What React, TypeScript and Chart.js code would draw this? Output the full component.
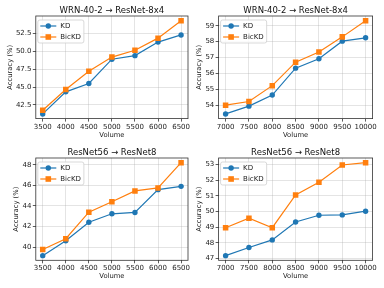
import React, { useEffect, useRef } from "react";
import { Chart, registerables } from "chart.js";

Chart.register(...registerables);

// ---------- data ----------
const volumesLow = [3500, 4000, 4500, 5000, 5500, 6000, 6500];
const volumesHigh = [7000, 7500, 8000, 8500, 9000, 9500, 10000];

const wrnLowKD = [41.23, 44.33, 45.5, 48.9, 49.4, 51.3, 52.3];
const wrnLowBicKD = [41.75, 44.66, 47.2, 49.2, 50.15, 51.85, 54.3];
const wrnHighKD = [53.45, 53.94, 54.64, 56.33, 56.92, 58.03, 58.24];
const wrnHighBicKD = [54.0, 54.23, 55.23, 56.71, 57.35, 58.3, 59.32];
const resLowKD = [39.18, 40.62, 42.42, 43.24, 43.37, 45.58, 45.9];
const resLowBicKD = [39.77, 40.82, 43.4, 44.4, 45.46, 45.75, 48.2];
const resHighKD = [47.17, 47.69, 48.18, 49.33, 49.76, 49.78, 50.02];
const resHighBicKD = [48.96, 49.57, 48.96, 51.06, 51.88, 52.98, 53.13];

const yTicksWrnLow = [42.5, 45, 47.5, 50, 52.5];
const yTicksWrnHigh = [54, 55, 56, 57, 58, 59];
const yTicksResLow = [40, 42, 44, 46, 48];
const yTicksResHigh = [47, 48, 49, 50, 51, 52, 53];

const titleWrn = "WRN-40-2 → ResNet-8x4";
const titleRes = "ResNet56 → ResNet8";
const seriesNames = ["KD", "BicKD"];
const xAxisTitle = "Volume";
const yAxisTitle = "Accuracy (%)";

// ---------- style ----------
const BLUE = "#1f77b4";
const ORANGE = "#ff7f0e";
const FONT = "'DejaVu Sans', sans-serif";
const W = 192;
const H = 144;

type Panel = {
  title: string;
  xs: number[];
  kd: number[];
  bic: number[];
  yTicks: number[];
  decimals: number;
  L: number;
  R: number;
  T: number;
  B: number;
  yTitleX: number;
  xTitleY: number;
  left: number;
  top: number;
};

const panels: Panel[] = [
  { title: titleWrn, xs: volumesLow, kd: wrnLowKD, bic: wrnLowBicKD, yTicks: yTicksWrnLow, decimals: 1,
    L: 35.8, R: 189.8, T: 16, B: 118.6, yTitleX: 10, xTitleY: 135, left: 0, top: 0 },
  { title: titleWrn, xs: volumesHigh, kd: wrnHighKD, bic: wrnHighBicKD, yTicks: yTicksWrnHigh, decimals: 0,
    L: 26.6, R: 180.6, T: 16, B: 118.6, yTitleX: 7.3, xTitleY: 135.5, left: 192, top: 0 },
  { title: titleRes, xs: volumesLow, kd: resLowKD, bic: resLowBicKD, yTicks: yTicksResLow, decimals: 0,
    L: 35.8, R: 189.8, T: 14, B: 116.3, yTitleX: 16, xTitleY: 132.7, left: 0, top: 144 },
  { title: titleRes, xs: volumesHigh, kd: resHighKD, bic: resHighBicKD, yTicks: yTicksResHigh, decimals: 0,
    L: 26.6, R: 180.6, T: 14, B: 116.3, yTitleX: 7.3, xTitleY: 132.7, left: 192, top: 144 },
];

function limits(vals: number[]) {
  const mn = Math.min(...vals);
  const mx = Math.max(...vals);
  const m = (mx - mn) * 0.05;
  return [mn - m, mx + m];
}

function ChartPanel({ p }: { p: Panel }) {
  const ref = useRef<HTMLCanvasElement | null>(null);
  useEffect(() => {
    if (!ref.current) return;
    const [xmin, xmax] = limits(p.xs);
    const [ymin, ymax] = limits([...p.kd, ...p.bic]);
    const lh = 6.8 * 1.2;

    const framePlugin = {
      id: "frame",
      afterDatasetsDraw(chart: any) {
        const { ctx, chartArea: a } = chart;
        ctx.save();
        // spines
        ctx.strokeStyle = "#333";
        ctx.lineWidth = 0.8;
        ctx.strokeRect(a.left, a.top, a.right - a.left, a.bottom - a.top);
        // title
        ctx.fillStyle = "#111";
        ctx.font = `8.5px ${FONT}`;
        ctx.textAlign = "center";
        ctx.textBaseline = "alphabetic";
        ctx.fillText(p.title, (a.left + a.right) / 2, a.top - 2.6);
        // legend
        ctx.font = `7px ${FONT}`;
        const tw = Math.max(...seriesNames.map((s) => ctx.measureText(s).width));
        const lx = a.left + 2;
        const ly = a.top + 4;
        const bw = 22.5 + tw + 3;
        const bh = 23;
        ctx.beginPath();
        (ctx as any).roundRect(lx, ly, bw, bh, 2);
        ctx.fillStyle = "rgba(255,255,255,0.85)";
        ctx.fill();
        ctx.strokeStyle = "#cfcfcf";
        ctx.lineWidth = 0.8;
        ctx.stroke();
        const colors = [BLUE, ORANGE];
        seriesNames.forEach((name, i) => {
          const y = ly + 6 + i * 11;
          ctx.strokeStyle = colors[i];
          ctx.lineWidth = 1.2;
          ctx.beginPath();
          ctx.moveTo(lx + 2.5, y);
          ctx.lineTo(lx + 18.5, y);
          ctx.stroke();
          ctx.fillStyle = colors[i];
          if (i === 0) {
            ctx.beginPath();
            ctx.arc(lx + 10.5, y, 2.7, 0, Math.PI * 2);
            ctx.fill();
          } else {
            ctx.fillRect(lx + 10.5 - 2.8, y - 2.8, 5.6, 5.6);
          }
          ctx.fillStyle = "#222";
          ctx.textAlign = "left";
          ctx.textBaseline = "middle";
          ctx.fillText(name, lx + 22.5, y + 0.3);
        });
        ctx.restore();
      },
    };

    const chart = new Chart(ref.current, {
      type: "line",
      data: {
        datasets: [
          {
            label: seriesNames[1],
            data: p.xs.map((x, i) => ({ x, y: p.bic[i] })),
            borderColor: ORANGE,
            backgroundColor: ORANGE,
            borderWidth: 1.2,
            pointStyle: "rect",
            pointRadius: 3.9,
            pointBorderWidth: 0,
            tension: 0,
          },
          {
            label: seriesNames[0],
            data: p.xs.map((x, i) => ({ x, y: p.kd[i] })),
            borderColor: BLUE,
            backgroundColor: BLUE,
            borderWidth: 1.2,
            pointStyle: "circle",
            pointRadius: 2.7,
            pointBorderWidth: 0,
            tension: 0,
          },
        ],
      },
      options: {
        animation: false,
        responsive: false,
        devicePixelRatio: 1,
        layout: { padding: { left: 0, top: p.T, right: W - p.R, bottom: 0 } },
        plugins: { legend: { display: false }, tooltip: { enabled: false }, title: { display: false } },
        scales: {
          x: {
            type: "linear",
            min: xmin,
            max: xmax,
            afterBuildTicks: (s: any) => {
              s.ticks = p.xs.map((v) => ({ value: v }));
            },
            afterFit: (s: any) => {
              s.height = H - p.B;
              s.paddingLeft = 0;
              s.paddingRight = 0;
            },
            ticks: {
              autoSkip: false,
              maxRotation: 0,
              minRotation: 0,
              padding: 1,
              color: "#222",
              font: { family: FONT, size: 7 },
              callback: (v: any) => String(v),
            },
            grid: {
              color: "rgba(170,170,170,0.45)",
              lineWidth: 0.7,
              borderDash: [3, 2],
              tickColor: "#333",
              tickLength: 3,
              tickBorderDash: [],
              tickWidth: 0.8,
            },
            border: { display: false },
            title: {
              display: true,
              text: xAxisTitle,
              color: "#222",
              font: { family: FONT, size: 6.8 },
              padding: { top: 0, bottom: H - p.xTitleY - lh / 2 },
            },
          },
          y: {
            type: "linear",
            min: ymin,
            max: ymax,
            afterBuildTicks: (s: any) => {
              s.ticks = p.yTicks.map((v) => ({ value: v }));
            },
            afterFit: (s: any) => {
              s.width = p.L;
              s.paddingTop = 0;
              s.paddingBottom = 0;
            },
            ticks: {
              autoSkip: false,
              padding: 1.3,
              color: "#222",
              font: { family: FONT, size: 7 },
              callback: (v: any) => Number(v).toFixed(p.decimals),
            },
            grid: {
              color: "rgba(170,170,170,0.45)",
              lineWidth: 0.7,
              borderDash: [3, 2],
              tickColor: "#333",
              tickLength: 3,
              tickBorderDash: [],
              tickWidth: 0.8,
            },
            border: { display: false },
            title: {
              display: true,
              text: yAxisTitle,
              color: "#222",
              font: { family: FONT, size: 6.8 },
              padding: { top: p.yTitleX - lh / 2, bottom: 0 },
            },
          },
        },
      },
      plugins: [framePlugin],
    } as any);
    return () => chart.destroy();
  }, [p]);

  return (
    <canvas
      ref={ref}
      width={W}
      height={H}
      style={{ position: "absolute", left: p.left, top: p.top, width: W, height: H, display: "block" }}
    />
  );
}

export default function App() {
  return (
    <div style={{ position: "absolute", left: 0, top: 0, width: 384, height: 288, background: "#fff" }}>
      {panels.map((p, i) => (
        <ChartPanel key={i} p={p} />
      ))}
    </div>
  );
}
